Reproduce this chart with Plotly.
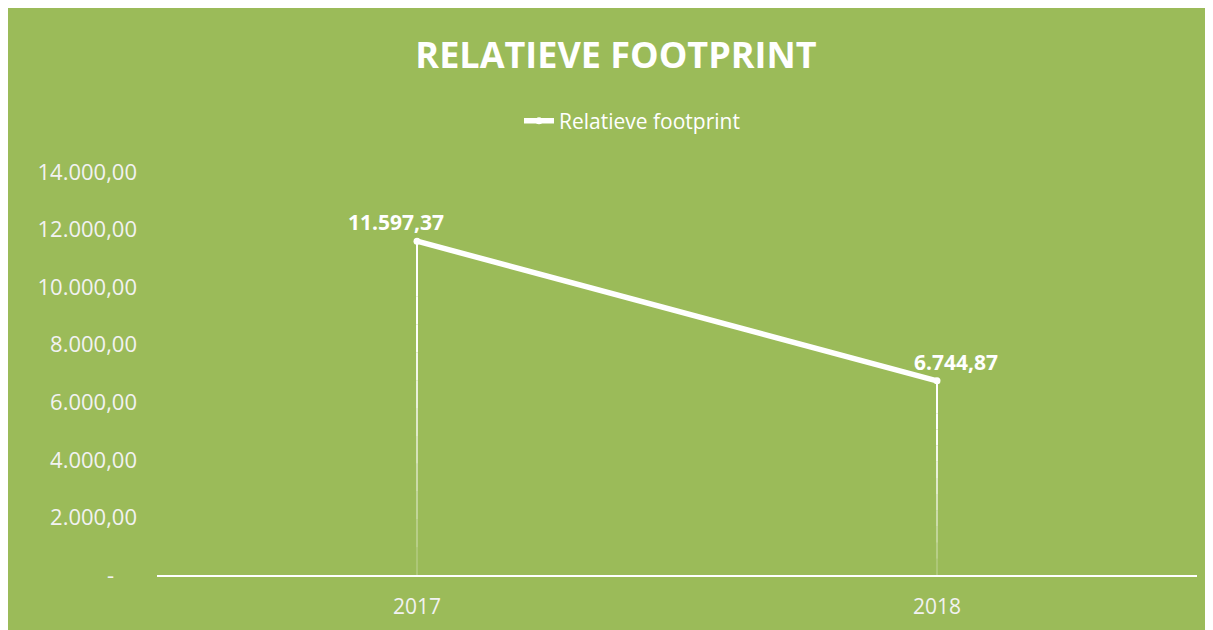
import plotly.graph_objects as go

years = ["2017", "2018"]
values = [11597.37, 6744.87]
value_labels = ["11.597,37", "6.744,87"]
series_name = "Relatieve footprint"
title_text = "RELATIEVE FOOTPRINT"
y_ticks = [0, 2000, 4000, 6000, 8000, 10000, 12000, 14000]
y_ticktext = ["-\u00a0\u00a0\u00a0\u00a0", "2.000,00", "4.000,00", "6.000,00", "8.000,00",
              "10.000,00", "12.000,00", "14.000,00"]

GREEN = "#9BBB59"
FONT = "Open Sans"

fig = go.Figure()

# drop lines with fading gradient (bottom faint -> top solid)
nseg = 12
for yr, v in zip(years, values):
    for i in range(nseg):
        a = i / nseg
        b = (i + 1) / nseg
        op = min(1.0, 0.08 + 1.2 * b)
        fig.add_trace(go.Scatter(
            x=[yr, yr], y=[v * a, v * b], mode="lines",
            line=dict(color="rgba(255,255,255,%.3f)" % op, width=2),
            showlegend=False, hoverinfo="skip"))

# main line
fig.add_trace(go.Scatter(
    x=years, y=values, mode="lines+markers", name=series_name,
    line=dict(color="white", width=5.5),
    marker=dict(color="white", size=7),
))

# data labels
shifts = [-21, 19]
for idx, (v, lab, xs) in enumerate(zip(values, value_labels, shifts)):
    fig.add_annotation(x=idx, y=v, xref="x", yref="y", text="<b>%s</b>" % lab,
                       showarrow=False, xshift=xs, yshift=19,
                       font=dict(family=FONT, size=21, color="white"))

W, H = 1213, 630
L, R, T, B = 149, 24, 164, 63
pw, ph = W - L - R, H - T - B

fig.update_layout(
    width=W, height=H,
    margin=dict(l=L, r=R, t=T, b=B),
    paper_bgcolor=GREEN, plot_bgcolor=GREEN,
    title=dict(text="<b>" + title_text + "</b>", x=608 / W, xref="container",
               xanchor="center", y=1 - 47 / H, yanchor="middle",
               font=dict(family=FONT, size=36, color="white")),
    legend=dict(orientation="h", x=0.5 + (624 - (L + pw / 2)) / pw, xanchor="center",
                y=1 + (T - 113) / ph, yanchor="middle",
                font=dict(family=FONT, size=21, color="white"),
                bgcolor="rgba(0,0,0,0)"),
    showlegend=True,
    xaxis=dict(type="category", range=[-0.5, 1.5], showgrid=False, zeroline=False,
               showline=True, linecolor="white", linewidth=2, ticks="",
               tickfont=dict(family=FONT, size=21, color="#F2F2F2"),
               ticklabelstandoff=12),
    yaxis=dict(range=[0, 14000], showgrid=False, zeroline=False, showline=False,
               tickvals=y_ticks, ticktext=y_ticktext, ticks="",
               tickfont=dict(family=FONT, size=22, color="#F2F2F2"),
               ticklabelstandoff=19),
)

fig.write_html("out.html")
